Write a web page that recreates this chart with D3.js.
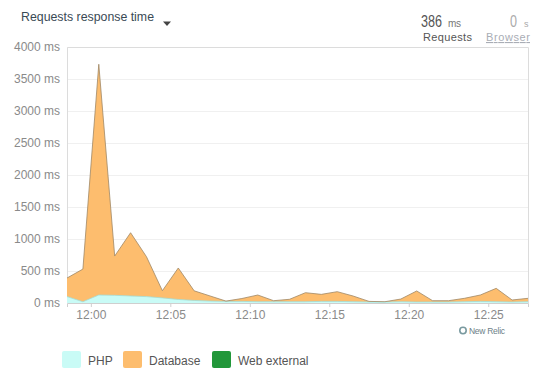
<!DOCTYPE html>
<html><head><meta charset="utf-8">
<script src="https://cdn.jsdelivr.net/npm/d3@7"></script>
<style>
body{margin:0;background:#fff;}
text{font-family:"Liberation Sans",Arial,sans-serif;}
</style></head>
<body><svg id="c" width="540" height="380"></svg>
<script>
// minutes after 12:00 (points at half minutes)
const minutes = [-1.5,-0.5,0.5,1.5,2.5,3.5,4.5,5.5,6.5,7.5,8.5,9.5,10.5,11.5,12.5,13.5,14.5,15.5,16.5,17.5,18.5,19.5,20.5,21.5,22.5,23.5,24.5,25.5,26.5,27.5];
const php      = [100,20,125,120,110,100,80,55,40,30,25,25,20,20,20,20,25,25,20,15,15,20,15,15,15,20,25,20,15,20];
const database = [290,510,3605,614,988,623,112,492,150,80,5,45,105,16,38,141,110,152,89,10,5,42,173,21,21,53,100,209,32,53];
const webExternal = [0,0,0,0,0,0,0,0,0,0,0,0,0,0,0,0,0,0,0,0,0,0,0,0,0,0,0,0,0,0];
const yTicks = [0,500,1000,1500,2000,2500,3000,3500,4000];
const seriesNames = ["PHP","Database","Web external"];
const seriesColors = ["#c9fbf6","#fdbd6e","#22973a"];

const svg = d3.select("#c");
const base = new Date(2020,0,1,12,0,0);
const t = m => new Date(base.getTime()+m*60000);
const rows = minutes.map((m,i)=>({time:t(m), php:php[i], database:database[i], web:webExternal[i]}));

const L=67,R=528,T=47,B=303;
const x = d3.scaleTime().domain([t(minutes[0]), t(minutes[minutes.length-1])]).range([L,R]);
const y = d3.scaleLinear().domain([0,4000]).range([B,T]);

// grid
svg.append("g").selectAll("line").data(yTicks.filter(v=>v>0)).join("line")
  .attr("x1",L).attr("x2",R).attr("y1",d=>y(d)+0.5).attr("y2",d=>y(d)+0.5)
  .attr("stroke","#f0f0f0");
// border
svg.append("path").attr("d",`M${L+0.5},${B}V${T+0.5}H${R+0.5}V${B}`).attr("fill","none").attr("stroke","#dcdcdc");

const stack = d3.stack().keys(["php","database","web"]);
const layers = stack(rows);
const area = d3.area().x(d=>x(d.data.time)).y0(d=>y(d[0])).y1(d=>y(d[1]));
const line = d3.line().x(d=>x(d.data.time)).y(d=>y(d[1]));
const strokes = ["#9fdcd6","#a08866","#22973a"];
layers.forEach((ly,i)=>{
  if(i===2) return;
  svg.append("path").datum(ly).attr("d",area).attr("fill",seriesColors[i]);
});
layers.forEach((ly,i)=>{
  if(i===2) return;
  svg.append("path").datum(ly).attr("d",line).attr("fill","none").attr("stroke",strokes[i]).attr("stroke-width",0.8);
});

// axes
const yAxis = d3.axisLeft(y).tickValues(yTicks).tickSize(0).tickPadding(7).tickFormat(d=>d+" ms");
const gy = svg.append("g").attr("transform",`translate(${L},0)`).call(yAxis);
gy.select(".domain").remove();
gy.selectAll("text").attr("fill","#8a8a8a").style("font-size","12px");

const xAxis = d3.axisBottom(x).ticks(d3.timeMinute.every(5)).tickSize(4).tickPadding(3).tickFormat(d3.timeFormat("%H:%M"));
const gx = svg.append("g").attr("transform",`translate(0,${B})`).call(xAxis);
gx.select(".domain").attr("stroke","#cfcfcf");
gx.selectAll(".tick line").attr("stroke","#cfcfcf");
gx.selectAll("text").attr("fill","#8a8a8a").style("font-size","12px");

// header
svg.append("text").attr("x",21).attr("y",21).text("Requests response time").attr("fill","#3a4a55").style("font-size","13px").attr("textLength",133).attr("lengthAdjust","spacingAndGlyphs");
svg.append("path").attr("d","M163,21.5h8l-4,4.5z").attr("fill","#444");
svg.append("text").attr("x",421).attr("y",27).text("386").attr("fill","#555").style("font-size","17px").attr("textLength",21).attr("lengthAdjust","spacingAndGlyphs");
svg.append("text").attr("x",448).attr("y",27).text("ms").attr("fill","#777").style("font-size","10px").attr("textLength",13);
svg.append("text").attr("x",510).attr("y",27).text("0").attr("fill","#aaa").style("font-size","17px").attr("textLength",7).attr("lengthAdjust","spacingAndGlyphs");
svg.append("text").attr("x",524).attr("y",27).text("s").attr("fill","#aaa").style("font-size","9px");
svg.append("text").attr("x",423).attr("y",41).text("Requests").attr("fill","#555").style("font-size","11px").attr("textLength",49);
svg.append("text").attr("x",486).attr("y",41).text("Browser").attr("fill","#a9adb5").style("font-size","11px").attr("textLength",44).style("text-decoration","underline");

// New Relic mark
svg.append("circle").attr("cx",463).attr("cy",330.5).attr("r",3.2).attr("fill","none").attr("stroke","#7a9aa0").attr("stroke-width",1.6);
svg.append("text").attr("x",469).attr("y",334).text("New Relic").attr("fill","#6d7f88").style("font-size","8.5px").attr("textLength",36);

// legend
const lg = svg.append("g");
const legX = [62,123,212];
seriesNames.forEach((n,i)=>{
  lg.append("rect").attr("x",legX[i]).attr("y",351).attr("width",19).attr("height",17).attr("rx",2).attr("fill",seriesColors[i]);
  lg.append("text").attr("x",legX[i]+26).attr("y",365).text(n).attr("fill","#555").style("font-size","12px");
});
</script></body></html>
